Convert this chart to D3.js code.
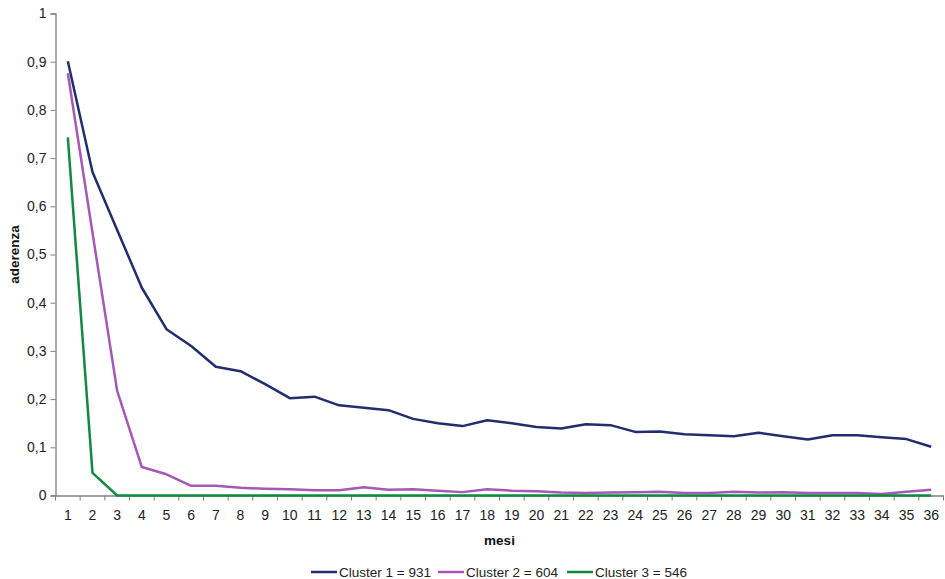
<!DOCTYPE html>
<html>
<head>
<meta charset="utf-8">
<script src="https://cdn.jsdelivr.net/npm/d3@7"></script>
<style>
  body { margin: 0; background: #fff; }
  svg { display: block; font-family: "Liberation Sans", Arial, sans-serif; }
</style>
</head>
<body>
<svg id="chart" width="945" height="579"></svg>
<script>
const months = d3.range(1, 37);
const yTicks = [0, 0.1, 0.2, 0.3, 0.4, 0.5, 0.6, 0.7, 0.8, 0.9, 1];
const seriesNames = ["Cluster 1 = 931", "Cluster 2 = 604", "Cluster 3 = 546"];
const seriesColors = ["#232d6e", "#a45ab4", "#0f8a3e"];
const cluster1 = [0.901, 0.671, 0.551, 0.431, 0.345, 0.310, 0.267, 0.258, 0.231, 0.202, 0.205, 0.187,
                  0.182, 0.177, 0.159, 0.150, 0.144, 0.156, 0.150, 0.142, 0.139, 0.148, 0.146, 0.132,
                  0.133, 0.127, 0.125, 0.123, 0.130, 0.123, 0.116, 0.125, 0.125, 0.121, 0.117, 0.101];
const cluster2 = [0.876, 0.545, 0.217, 0.059, 0.044, 0.020, 0.020, 0.016, 0.014, 0.013, 0.011, 0.011,
                  0.017, 0.012, 0.013, 0.010, 0.007, 0.013, 0.010, 0.009, 0.006, 0.005, 0.006, 0.007,
                  0.008, 0.005, 0.005, 0.008, 0.006, 0.007, 0.005, 0.005, 0.005, 0.003, 0.008, 0.012];
const cluster3 = [0.743, 0.047, 0, 0, 0, 0, 0, 0, 0, 0, 0, 0,
                  0, 0, 0, 0, 0, 0, 0, 0, 0, 0, 0, 0,
                  0, 0, 0, 0, 0, 0, 0, 0, 0, 0, 0, 0];
const seriesValues = [cluster1, cluster2, cluster3];

const svg = d3.select("#chart");
const mLeft = 55.5, mRight = 943.5, mTop = 13.5, mBottom = 495.5;

const x = d3.scaleBand().domain(months).range([mLeft, mRight]);
const y = d3.scaleLinear().domain([0, 1]).range([mBottom, mTop]);
const axisColor = "#808080";
const fmt = d => d3.format(".1f")(d).replace(".", ",").replace(/^0,0$/, "0").replace(/^1,0$/, "1");

// Y axis
const yAxis = svg.append("g").attr("transform", `translate(${mLeft},0)`)
  .call(d3.axisLeft(y).tickValues(yTicks).tickSize(5).tickPadding(4).tickFormat(fmt));
yAxis.select(".domain").attr("stroke", axisColor).attr("stroke-width", 1.3);
yAxis.selectAll(".tick line").attr("stroke", axisColor).attr("stroke-width", 1);
yAxis.selectAll(".tick text").attr("fill", "#222").style("font-size", "14px")
  .style("font-family", "'Liberation Sans', Arial, sans-serif");

// X axis
const xAxis = svg.append("g").attr("transform", `translate(0,${mBottom})`)
  .call(d3.axisBottom(x).tickSize(0).tickPadding(15));
xAxis.select(".domain").attr("stroke", axisColor).attr("stroke-width", 1.3);
xAxis.selectAll(".tick text").attr("fill", "#222").style("font-size", "14px")
  .style("font-family", "'Liberation Sans', Arial, sans-serif");
// tick marks between categories
const boundaries = months.map(m => x(m)).concat([x(months[months.length - 1]) + x.bandwidth()]);
svg.append("g").selectAll("line").data(boundaries).join("line")
  .attr("x1", d => d).attr("x2", d => d)
  .attr("y1", mBottom).attr("y2", mBottom + 5)
  .attr("stroke", axisColor).attr("stroke-width", 1);

// Lines
const line = d3.line()
  .x((d, i) => x(months[i]) + x.bandwidth() / 2)
  .y(d => y(d));
svg.append("g").selectAll("path").data(seriesValues).join("path")
  .attr("d", d => line(d))
  .attr("fill", "none")
  .attr("stroke", (d, i) => seriesColors[i])
  .attr("stroke-width", 2.5)
  .attr("stroke-linejoin", "round");

// Axis titles
svg.append("text").attr("x", (mLeft + mRight) / 2).attr("y", 545)
  .attr("text-anchor", "middle").style("font-size", "13.5px").style("font-weight", "bold")
  .attr("fill", "#111").text("mesi");
svg.append("text").attr("transform", `translate(19,${(mTop + mBottom) / 2}) rotate(-90)`)
  .attr("text-anchor", "middle").style("font-size", "13.5px").style("font-weight", "bold")
  .attr("fill", "#111").text("aderenza");

// Legend
const legendX = [311, 438, 567];
const lg = svg.append("g").selectAll("g").data(seriesNames).join("g")
  .attr("transform", (d, i) => `translate(${legendX[i]},572)`);
lg.append("line").attr("x1", 0).attr("x2", 26).attr("y1", 0).attr("y2", 0)
  .attr("stroke", (d, i) => seriesColors[i]).attr("stroke-width", 2.5);
lg.append("text").attr("x", 28).attr("y", 0).attr("dy", "0.35em")
  .style("font-size", "13.5px").attr("fill", "#222").text(d => d);
</script>
</body>
</html>
